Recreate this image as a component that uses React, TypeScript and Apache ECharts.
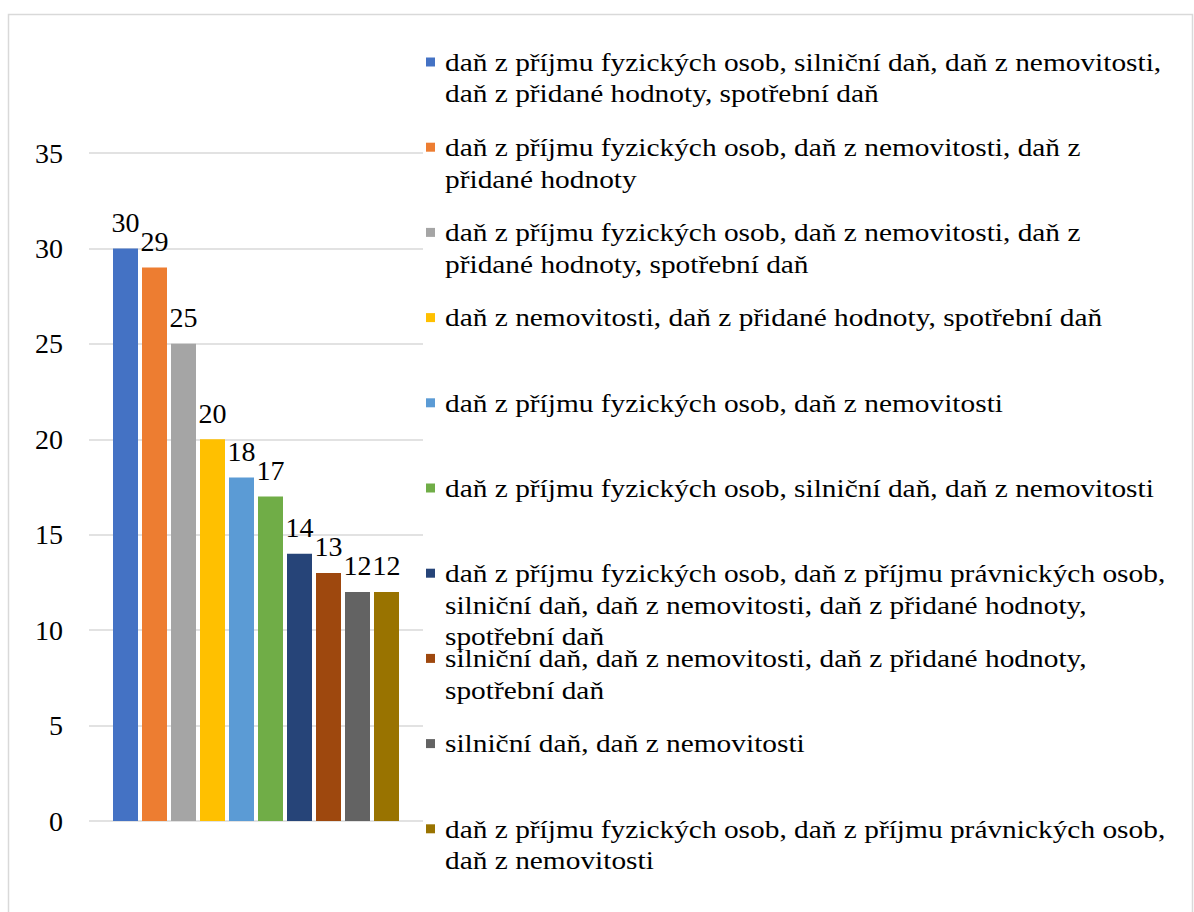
import React, { useEffect, useRef } from "react";
import * as echarts from "echarts";

const seriesNames: string[] = [
  "daň z příjmu fyzických osob, silniční daň, daň z nemovitosti, daň z přidané hodnoty, spotřební daň",
  "daň z příjmu fyzických osob, daň z nemovitosti, daň z přidané hodnoty",
  "daň z příjmu fyzických osob, daň z nemovitosti, daň z přidané hodnoty, spotřební daň",
  "daň z nemovitosti, daň z přidané hodnoty, spotřební daň",
  "daň z příjmu fyzických osob, daň z nemovitosti",
  "daň z příjmu fyzických osob, silniční daň, daň z nemovitosti",
  "daň z příjmu fyzických osob, daň z příjmu právnických osob, silniční daň, daň z nemovitosti, daň z přidané hodnoty, spotřební daň",
  "silniční daň, daň z nemovitosti, daň z přidané hodnoty, spotřební daň",
  "silniční daň, daň z nemovitosti",
  "daň z příjmu fyzických osob, daň z příjmu právnických osob, daň z nemovitosti",
];

// legend labels as wrapped in the reference
const legendLabels: string[] = [
  "daň z příjmu fyzických osob, silniční daň, daň z nemovitosti,\ndaň z přidané hodnoty, spotřební daň",
  "daň z příjmu fyzických osob, daň z nemovitosti, daň z\npřidané hodnoty",
  "daň z příjmu fyzických osob, daň z nemovitosti, daň z\npřidané hodnoty, spotřební daň",
  "daň z nemovitosti, daň z přidané hodnoty, spotřební daň",
  "daň z příjmu fyzických osob, daň z nemovitosti",
  "daň z příjmu fyzických osob, silniční daň, daň z nemovitosti",
  "daň z příjmu fyzických osob, daň z příjmu právnických osob,\nsilniční daň, daň z nemovitosti, daň z přidané hodnoty,\nspotřební daň",
  "silniční daň, daň z nemovitosti, daň z přidané hodnoty,\nspotřební daň",
  "silniční daň, daň z nemovitosti",
  "daň z příjmu fyzických osob, daň z příjmu právnických osob,\ndaň z nemovitosti",
];

const seriesValues: number[] = [30, 29, 25, 20, 18, 17, 14, 13, 12, 12];

const seriesColors: string[] = [
  "#4472C4",
  "#ED7D31",
  "#A5A5A5",
  "#FFC000",
  "#5B9BD5",
  "#70AD47",
  "#264478",
  "#9E480E",
  "#636363",
  "#997300",
];

const categories: string[] = [""];

const FONT = "Liberation Serif";

export default function App() {
  const ref = useRef<HTMLDivElement>(null);

  useEffect(() => {
    if (!ref.current) return;
    const chart = echarts.init(ref.current, undefined, { renderer: "svg" });

    const legendTop = 62;
    const legendStep = 85.2;
    const lineH = 31.5;

    const legendGraphics: any[] = [];
    legendLabels.forEach((label, i) => {
      const cy = legendTop + legendStep * i;
      legendGraphics.push({
        type: "rect",
        shape: { x: 426, y: cy - 4.5, width: 9, height: 9 },
        style: { fill: seriesColors[i] },
        silent: true,
      });
      legendGraphics.push({
        type: "text",
        x: 445,
        y: cy - lineH / 2,
        scaleX: 1.13,
        style: {
          text: label,
          fill: "#000",
          fontFamily: FONT,
          fontSize: 26,
          lineHeight: lineH,
          verticalAlign: "top",
          align: "left",
        },
        silent: true,
      });
    });

    const option: any = {
      animation: false,
      backgroundColor: "#ffffff",
      textStyle: { fontFamily: FONT },
      grid: { left: 89, top: 153, width: 334, height: 668, containLabel: false },
      xAxis: {
        type: "category",
        data: categories,
        axisLine: { show: false },
        axisTick: { show: false },
        axisLabel: { show: false },
        splitLine: { show: false },
      },
      yAxis: {
        type: "value",
        min: 0,
        max: 35,
        interval: 5,
        axisLine: { show: false },
        axisTick: { show: false },
        axisLabel: {
          color: "#000",
          fontSize: 28,
          fontFamily: FONT,
          margin: 26,
        },
        splitLine: { lineStyle: { color: "#d9d9d9", width: 1.5 } },
      },
      series: seriesNames.map((name, i) => ({
        name,
        type: "bar",
        data: [seriesValues[i]],
        barWidth: 25,
        barGap: "16%",
        itemStyle: { color: seriesColors[i] },
        label: {
          show: true,
          position: "top",
          distance: 12,
          color: "#000",
          fontSize: 28,
          fontFamily: FONT,
        },
      })),
      graphic: [
        {
          type: "rect",
          shape: { x: 8.5, y: 14.5, width: 1184, height: 920 },
          style: { fill: "none", stroke: "#d9d9d9", lineWidth: 1.5 },
          silent: true,
          z: -1,
        },
        ...legendGraphics,
      ],
    };

    chart.setOption(option);
    return () => chart.dispose();
  }, []);

  return (
    <div
      ref={ref}
      style={{ position: "fixed", left: 0, top: 0, width: 1194, height: 912 }}
    />
  );
}
